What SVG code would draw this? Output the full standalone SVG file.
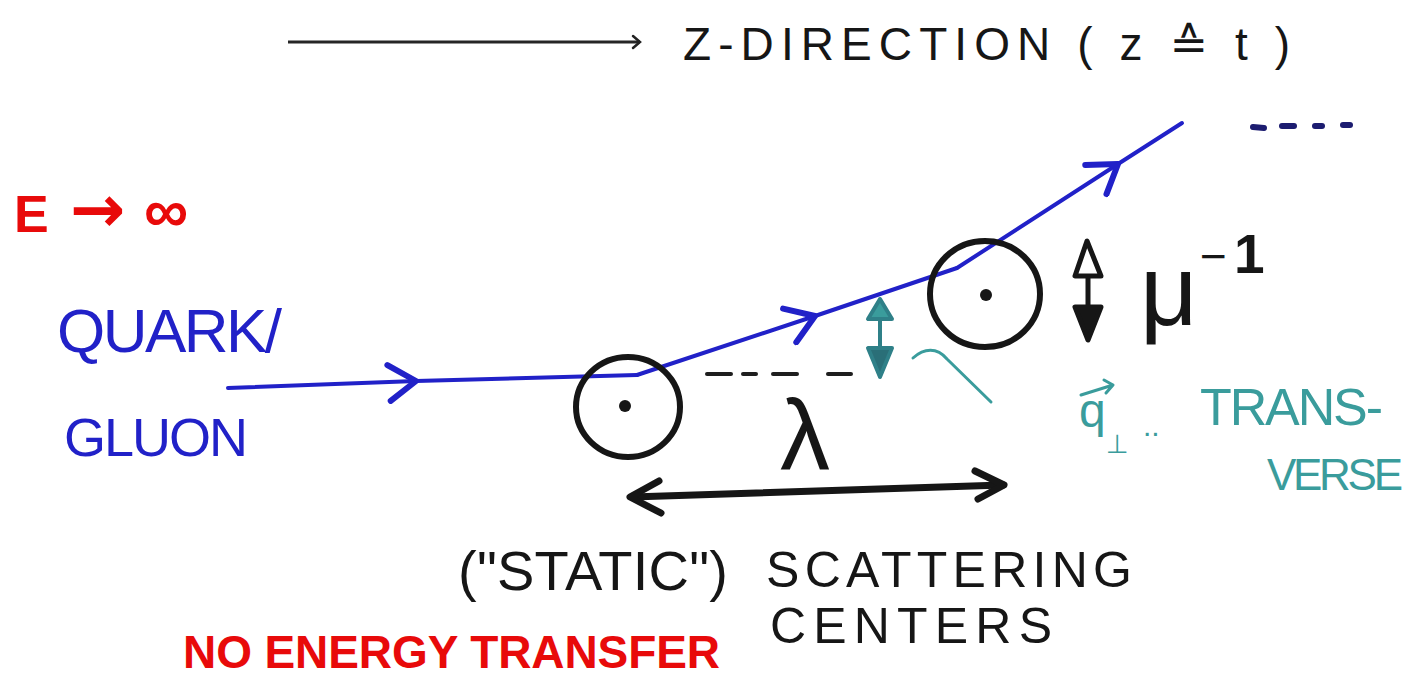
<svg xmlns="http://www.w3.org/2000/svg" width="1424" height="677" viewBox="0 0 1424 677">
  <style>
    .t { font-family: "Liberation Sans", "DejaVu Sans", sans-serif; }
    .blk { fill: #161616; }
    .blue { fill: #2121c8; }
    .red { fill: #e80a0a; }
    .teal { fill: #3a9c9c; }
    .pen-blue { fill: none; stroke: #2121c8; stroke-width: 4; stroke-linecap: round; stroke-linejoin: round; }
    .pen-blk { fill: none; stroke: #161616; stroke-linecap: round; stroke-linejoin: round; }
    .pen-teal { fill: none; stroke: #3a9c9c; stroke-width: 3; stroke-linecap: round; stroke-linejoin: round; }
  </style>
  <defs>
    <marker id="chev" markerUnits="userSpaceOnUse" markerWidth="40" markerHeight="44" viewBox="-32 -22 36 44" refX="0" refY="0" orient="auto">
      <path d="M-28,-17 L0,0 L-26,19" fill="none" stroke="#2121c8" stroke-width="6" stroke-linecap="round" stroke-linejoin="round"/>
    </marker>
    <marker id="chev-small" markerUnits="userSpaceOnUse" markerWidth="16" markerHeight="16" viewBox="-10 -8 12 16" refX="0" refY="0" orient="auto">
      <path d="M-7,-6 L0,0 L-7,6" fill="none" stroke="#222" stroke-width="2.5" stroke-linecap="round"/>
    </marker>
  </defs>
  <rect width="1424" height="677" fill="#ffffff"/>

  <g id="connectors">
    <!-- z-direction arrow -->
    <line x1="288" y1="42" x2="640" y2="42" stroke="#262626" stroke-width="3" marker-end="url(#chev-small)"/>
    <!-- blue trajectory -->
    <path class="pen-blue" d="M228,388 L416,381" marker-end="url(#chev)"/>
    <path class="pen-blue" d="M416,381 L637,375"/>
    <path class="pen-blue" d="M637,375 L815,316" marker-end="url(#chev)"/>
    <path class="pen-blue" d="M815,316 L957,268"/>
    <path class="pen-blue" d="M957,268 L1118,164" marker-end="url(#chev)"/>
    <path class="pen-blue" d="M1118,164 L1182,123"/>
    <!-- continuation dashes -->
    <g stroke="#1c1c70" stroke-width="6" stroke-linecap="round">
      <line x1="1253" y1="127" x2="1264" y2="128"/>
      <line x1="1282" y1="126" x2="1294" y2="126"/>
      <line x1="1315" y1="126" x2="1322" y2="126"/>
      <line x1="1343" y1="125" x2="1350" y2="125"/>
    </g>
    <!-- black dashes from centre 1 -->
    <g stroke="#1e1e1e" stroke-width="4" stroke-linecap="round">
      <line x1="707" y1="374" x2="731" y2="374"/>
      <line x1="743" y1="374" x2="756" y2="374"/>
      <line x1="773" y1="374" x2="797" y2="374"/>
      <line x1="828" y1="374" x2="851" y2="374"/>
    </g>
    <!-- lambda double arrow -->
    <g class="pen-blk" stroke-width="7">
      <path d="M632,497 L1003,485"/>
      <path d="M659,481 L630,497 L661,513"/>
      <path d="M975,471 L1004,485 L978,499"/>
    </g>
    <!-- mu^-1 vertical double arrow -->
    <g stroke="#161616" stroke-width="5" stroke-linejoin="round" stroke-linecap="round">
      <line x1="1088" y1="262" x2="1088" y2="318"/>
      <path d="M1087,241 L1075,276 L1101,276 Z" fill="#ffffff"/>
      <path d="M1075,307 L1101,307 L1088,340 Z" fill="#161616"/>
    </g>
    <!-- teal transverse double arrow -->
    <g stroke="#2f8088" stroke-width="4" stroke-linejoin="round" stroke-linecap="round">
      <line x1="880" y1="312" x2="880" y2="362"/>
      <path d="M880,299 L868,319 L892,319 Z" fill="#3a9c9c"/>
      <path d="M868,348 L892,348 L880,377 Z" fill="#2a6f78"/>
    </g>
    <!-- teal pointer curve -->
    <path class="pen-teal" d="M913,358 C924,348 937,347 947,359 L991,402"/>
  </g>

  <g id="scattering-center-1">
    <ellipse cx="628" cy="407" rx="52" ry="50" fill="none" stroke="#161616" stroke-width="6"/>
    <circle cx="625" cy="406" r="6" fill="#161616"/>
  </g>

  <g id="scattering-center-2">
    <ellipse cx="985" cy="294" rx="55" ry="53" fill="none" stroke="#161616" stroke-width="6"/>
    <circle cx="986" cy="295" r="6" fill="#161616"/>
  </g>

  <g id="label-z-direction">
    <text class="t blk" x="683" y="60" font-size="46" textLength="607" lengthAdjust="spacing">Z-DIRECTION ( z ≙ t )</text>
  </g>

  <g id="label-energy">
    <text class="t red" y="232" font-weight="bold"><tspan x="14" font-size="52">E</tspan><tspan x="70" font-size="66" font-family="DejaVu Sans, sans-serif">→</tspan><tspan x="144" font-size="62">∞</tspan></text>
  </g>

  <g id="label-quark-gluon">
    <text class="t blue" x="57" y="352" font-size="62" textLength="225" lengthAdjust="spacing">QUARK/</text>
    <text class="t blue" x="64" y="456" font-size="54" textLength="184" lengthAdjust="spacing">GLUON</text>
  </g>

  <g id="label-lambda">
    <text class="t blk" x="780" y="470" font-size="100">λ</text>
  </g>

  <g id="label-mu">
    <text class="t blk" x="1140" y="325" font-size="100">μ</text>
    <text class="t blk" x="1200" y="272" font-size="46">−</text>
    <text class="t blk" x="1234" y="273" font-size="55" font-weight="bold">1</text>
  </g>

  <g id="label-q-transverse">
    <path class="pen-teal" d="M1081,395 L1113,385 M1104,380 L1113,385 L1106,393"/>
    <text class="t teal" y="427" font-size="48"><tspan x="1079">q</tspan><tspan x="1106" y="453" font-size="26">⊥</tspan><tspan x="1143" y="436" font-size="30">..</tspan></text>
    <text class="t teal" x="1200" y="425" font-size="52" textLength="183" lengthAdjust="spacing">TRANS-</text>
    <text class="t teal" x="1267" y="490" font-size="44" textLength="136" lengthAdjust="spacing">VERSE</text>
  </g>

  <g id="label-scattering-centers">
    <text class="t blk" x="458" y="590" font-size="56" textLength="270" lengthAdjust="spacing">("STATIC")</text>
    <text class="t blk" x="766" y="587" font-size="50" textLength="366" lengthAdjust="spacing">SCATTERING</text>
    <text class="t blk" x="770" y="643" font-size="50" textLength="282" lengthAdjust="spacing">CENTERS</text>
  </g>

  <g id="label-no-energy-transfer">
    <text class="t red" x="183" y="668" font-size="46" font-weight="bold" textLength="537" lengthAdjust="spacing">NO ENERGY TRANSFER</text>
  </g>
</svg>
